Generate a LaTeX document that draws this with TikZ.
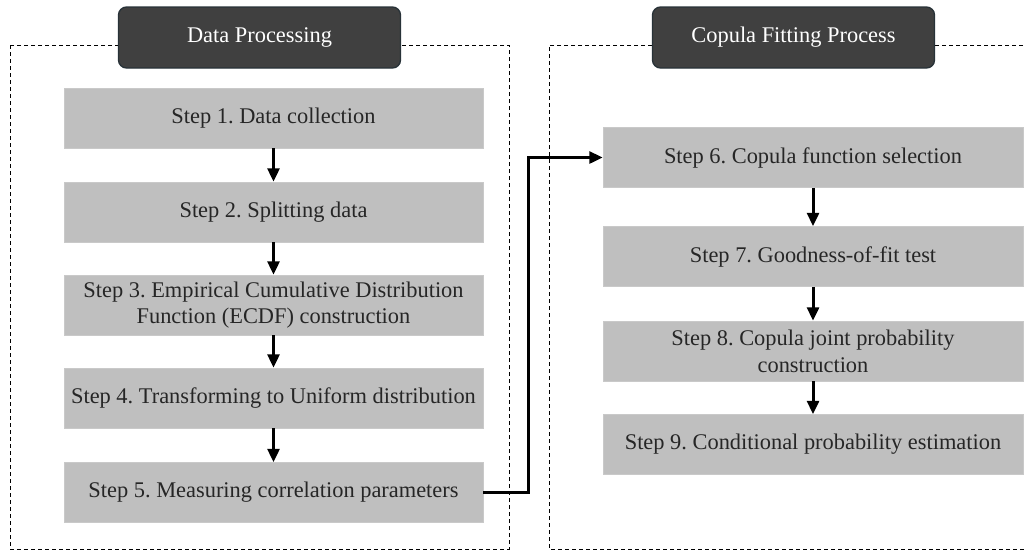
\documentclass[tikz,border=0pt]{standalone}
\usepackage{fontspec}
\setmainfont{Liberation Serif}
\usetikzlibrary{arrows.meta}
\definecolor{boxgray}{RGB}{191,191,191}
\definecolor{headdark}{RGB}{64,64,64}
\definecolor{headedge}{RGB}{40,50,56}
\frenchspacing

\begin{document}
\begin{tikzpicture}[x=0.75pt,y=-0.75pt,
  stepbox/.style={fill=boxgray,draw=boxgray!85!white,line width=0.6pt,minimum height=45pt,inner sep=0pt,align=center,text=black!85,font=\fontsize{16.8}{20}\selectfont},
  headbox/.style={rounded corners=6pt,fill=headdark,draw=headedge,line width=1pt,minimum width=211.5pt,minimum height=45.75pt,text=white,font=\fontsize{16.8}{20}\selectfont},
  frame/.style={black,line width=0.75pt,dash pattern=on 3pt off 2.25pt},
  flow/.style={black,line width=2.25pt,-{Triangle[length=10pt,width=9pt]}}]
\useasboundingbox (0,0) rectangle (1024,551);

\draw[frame] (10,45) rectangle (509,549);
\draw[frame] (1030,45) -| (549,549) -- (1030,549);

\node[headbox] (dp) at (259.5,37.5) {Data Processing};
\node[headbox] (cf) at (793.5,37.5) {Copula Fitting Process};

\node[stepbox,minimum width=314.25pt] (s1) at (273.5,118) {Step 1. Data collection};
\node[stepbox,minimum width=314.25pt] (s2) at (273.5,212) {Step 2. Splitting data};
\node[stepbox,minimum width=314.25pt] (s3) at (273.5,305) {Step 3. Empirical Cumulative Distribution\\Function (ECDF) construction};
\node[stepbox,minimum width=314.25pt] (s4) at (273.5,398) {Step 4. Transforming to Uniform distribution};
\node[stepbox,minimum width=314.25pt] (s5) at (273.5,492.5) {Step 5. Measuring correlation parameters};

\node[stepbox,minimum width=315pt] (s6) at (813,157.5) {Step 6. Copula function selection};
\node[stepbox,minimum width=315pt] (s7) at (813,256.5) {Step 7. Goodness-of-fit test};
\node[stepbox,minimum width=315pt] (s8) at (813,351) {Step 8. Copula joint probability\\construction};
\node[stepbox,minimum width=315pt] (s9) at (813,444.5) {Step 9. Conditional probability estimation};

\draw[flow] (s1) -- (s2);
\draw[flow] (s2) -- (s3);
\draw[flow] (s3) -- (s4);
\draw[flow] (s4) -- (s5);
\draw[flow] (s5.east) -- ++(45,0) |- (s6.west);
\draw[flow] (s6) -- (s7);
\draw[flow] (s7) -- (s8);
\draw[flow] (s8) -- (s9);
\end{tikzpicture}
\end{document}
